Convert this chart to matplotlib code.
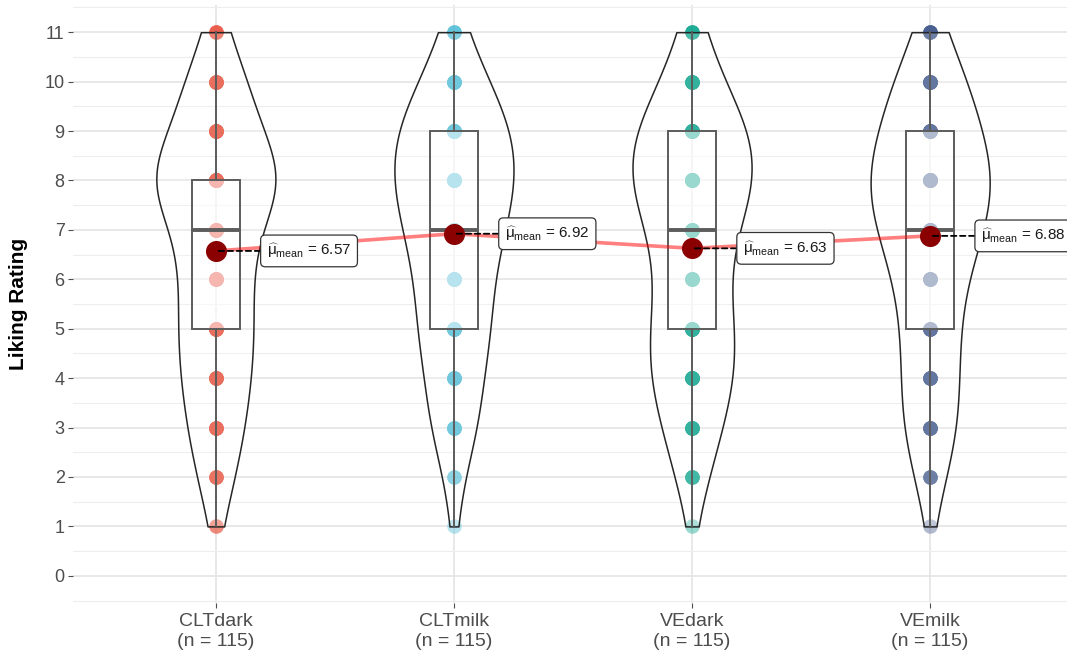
import matplotlib
matplotlib.use("Agg")
import matplotlib.pyplot as plt
import numpy as np

plt.rcParams["font.family"] = ["Liberation Sans", "DejaVu Sans"]
plt.rcParams["mathtext.fontset"] = "custom"
plt.rcParams["mathtext.rm"] = "Liberation Sans"
plt.rcParams["mathtext.it"] = "Liberation Sans:italic"

categories = ["CLTdark", "CLTmilk", "VEdark", "VEmilk"]
ratings = list(range(1, 12))
# respondents per rating 1..11 (estimated from dot shading / violin shape)
counts_cltdark = [2, 6, 9, 11, 12, 11, 13, 23, 14, 10, 4]
counts_cltmilk = [1, 3, 8, 9, 12, 12, 16, 20, 19, 11, 4]
counts_vedark = [1, 5, 9, 13, 13, 10, 13, 20, 18, 9, 4]
counts_vemilk = [1, 5, 9, 9, 9, 11, 17, 21, 16, 12, 5]
colors = ["#E64B35", "#4DBBD5", "#00A087", "#3C5488"]

all_counts = [counts_cltdark, counts_cltmilk, counts_vedark, counts_vemilk]
data = [np.repeat(ratings, c).astype(float) for c in all_counts]
pos = np.arange(1, len(categories) + 1)
means = [d.mean() for d in data]


def _nrd0_factor(kde):
    """R's bw.nrd0 expressed as a factor of the sample sd (what GaussianKDE wants)."""
    x = np.asarray(kde.dataset).ravel()
    sd = x.std(ddof=1)
    iqr = np.subtract(*np.percentile(x, [75, 25]))
    bw = 0.9 * min(sd, iqr / 1.34) * len(x) ** -0.2
    return bw / sd


fig = plt.figure(figsize=(10.67, 6.57), dpi=100)
ax = fig.add_axes([73 / 1067, 1 - 603 / 657, 1000 / 1067, 598 / 657])

# points: stacked translucent dots, darker where more respondents
for p, d, col in zip(pos, data, colors):
    ax.scatter(np.full(len(d), p), d, s=110, color=col, alpha=0.4,
               linewidths=0, zorder=2)

# violins sit over the dots with a faint white fill, like ggplot's alpha=0.2
vp = ax.violinplot(data, positions=pos, widths=0.5, showextrema=False,
                   bw_method=_nrd0_factor, points=200)
for body in vp["bodies"]:
    body.set_alpha(None)
    body.set_facecolor((1, 1, 1, 0.2))
    body.set_edgecolor((0.15, 0.15, 0.15, 1.0))
    body.set_linewidth(1.1)
    body.set_zorder(2.5)

ax.boxplot(data, positions=pos, widths=0.2, showfliers=False, patch_artist=True,
           boxprops=dict(facecolor=(1, 1, 1, 0.5), edgecolor="#5c5c5c", linewidth=1.4),
           medianprops=dict(color="#5c5c5c", linewidth=2.8),
           whiskerprops=dict(color="#5c5c5c", linewidth=1.4),
           capprops=dict(linewidth=0), zorder=3)

ax.plot(pos, means, color="red", alpha=0.5, linewidth=2.6, zorder=4)
ax.scatter(pos, means, s=230, color="#8B0000", linewidths=0, zorder=5)

for p, m in zip(pos, means):
    ax.annotate(r"$\widehat{\mathrm{\mu}}_{\mathrm{mean}}$" + f" = {m:.2f}",
                xy=(p, m), xytext=(p + 0.215, m), ha="left", va="center",
                fontsize=11, color="#1a1a1a", zorder=6,
                bbox=dict(boxstyle="round,pad=0.42,rounding_size=0.3", fc="white",
                          ec="#333333", lw=0.9),
                arrowprops=dict(arrowstyle="-", linestyle=(0, (3, 2)), color="black",
                                lw=1.3, shrinkA=0, shrinkB=0))

ax.set_xlim(0.4, 4.6)
ax.set_ylim(-0.55, 11.55)
ax.set_yticks(range(0, 12))
ax.set_yticks(np.arange(-0.5, 12, 1.0), minor=True)
ax.set_xticks(pos)
ax.set_xticklabels([f"{c}\n(n = {len(d)})" for c, d in zip(categories, data)])

ax.grid(True, which="major", color="#E6E6E6", linewidth=1.3, zorder=0)
ax.grid(True, which="minor", axis="y", color="#EDEDED", linewidth=0.8, zorder=0)
ax.set_axisbelow(True)
for s in ax.spines.values():
    s.set_visible(False)

ax.tick_params(axis="y", which="major", length=3.5, width=0.8, color="#4D4D4D",
               labelsize=13, labelcolor="#4D4D4D", pad=2.5)
ax.tick_params(axis="x", which="major", length=3.5, width=0.8, color="#4D4D4D",
               labelsize=14, labelcolor="#4D4D4D", pad=4)
ax.tick_params(which="minor", length=0)

ax.set_ylabel("Liking Rating", fontsize=15, fontweight="bold", labelpad=12)

fig.savefig("out.png", dpi=100)
